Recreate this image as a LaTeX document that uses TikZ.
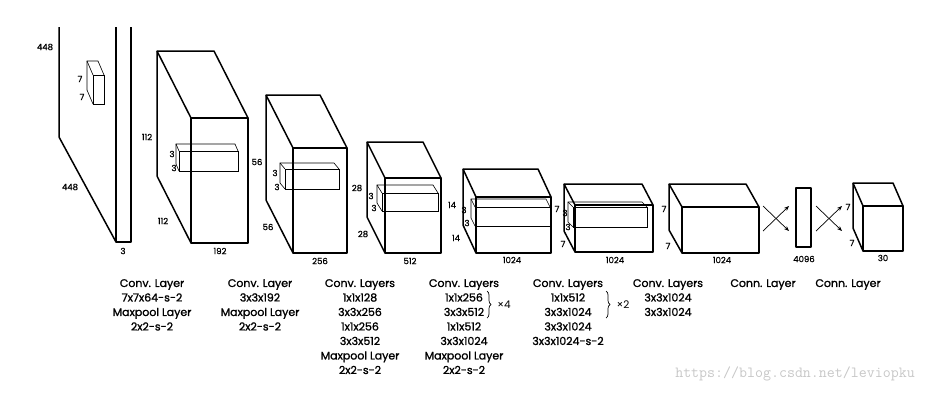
\documentclass[tikz,border=0pt]{standalone}
\usepackage{fontspec}
\setmainfont{Poppins}
\newfontfamily\descfont{Poppins}[FakeBold=1.3]
\newfontfamily\dimfont{Poppins}[FakeBold=0.8]
\usetikzlibrary{arrows.meta}
\usetikzlibrary{decorations,decorations.pathreplacing}
\tikzstyle{blk}=[line width=1.5pt, line join=round]
\tikzstyle{kern}=[line width=0.6pt]
\tikzstyle{dim}=[inner sep=0.5pt, font=\dimfont\fontsize{8.5}{9}\selectfont]
\tikzstyle{desc}=[inner sep=0pt, align=center, anchor=north, font=\descfont\fontsize{11}{14.5}\selectfont]
\tikzstyle{fc>}=[line width=0.7pt, -{Stealth[length=5pt,width=4pt]}]
% cuboid: [style]{x}{y}{dx}{dy}{w}{h}, (x,y) = back top left corner
\newcommand{\convbox}[7][]{%
  \draw[#1] (#2,#3+#7) -- (#2,#3) -- (#2+#6,#3) -- (#2+#4+#6,#3+#5);
  \draw[#1] (#2,#3) -- (#2+#4,#3+#5);
  \draw[#1] (#2,#3+#7) -- (#2+#4,#3+#5+#7);
  \draw[#1] (#2+#4,#3+#5) rectangle (#2+#4+#6,#3+#5+#7);
}

\begin{document}
\begin{tikzpicture}[x=1pt,y=-1pt]
\useasboundingbox (0,0) rectangle (942,410);
% input image
\begin{scope}
\clip (0,27) rectangle (942,410);
\convbox[blk]{59}{-100}{57}{105}{15}{237}
\end{scope}
\convbox[kern]{87}{61}{6}{14}{11}{29}
\node[dim] (in1) at (45,47) {448};
\node[dim] (in2) at (70,187) {448};
\node[dim] (in3) at (123,251) {3};
\node[dim] (k1a) at (80,79) {7};
\node[dim] (k1b) at (82,97) {7};
% layer 1
\convbox[blk]{157}{51}{34}{67}{57}{125}
\convbox[kern]{176}{144}{3}{7}{59}{20}
\node[dim] (c1a) at (147,137) {112};
\node[dim] (c1b) at (163,221) {112};
\node[dim] (c1c) at (220,251) {192};
\node[dim] (k2a) at (172,154) {3};
\node[dim] (k2b) at (174,168) {3};
% layer 2
\convbox[blk]{266}{95}{27}{53}{54}{105}
\convbox[kern]{280}{163}{5}{6}{54}{20}
\node[dim] (c2a) at (257,162) {56};
\node[dim] (c2b) at (268,227) {56};
\node[dim] (c2c) at (320,261) {256};
\node[dim] (k3a) at (275,173) {3};
\node[dim] (k3b) at (277,187) {3};
% layer 3
\convbox[blk]{367}{142}{18}{36}{56}{75}
\convbox[kern]{377}{185}{5}{8}{56}{18}
\node[dim] (c3a) at (357,188) {28};
\node[dim] (c3b) at (363,234) {28};
\node[dim] (c3c) at (410,261) {512};
\node[dim] (k4a) at (371,196) {3};
\node[dim] (k4b) at (374,208) {3};
% layer 4
\convbox[blk]{463}{169}{13}{28}{75}{56}
\convbox[kern]{471}{199}{4}{8}{75}{19}
\node[dim] (c4a) at (452,205) {14};
\node[dim] (c4b) at (456,238) {14};
\node[dim] (c4c) at (512,260) {1024};
\node[dim] (k5a) at (464,210) {3};
\node[dim] (k5b) at (467,223) {3};
% layer 5
\convbox[blk]{564}{184}{11}{21}{78}{47}
\convbox[kern]{568}{202}{5}{5}{74}{20}
\node[dim] (c5a) at (557,209) {7};
\node[dim] (c5b) at (563,244) {7};
\node[dim] (c5c) at (615,260) {1024};
\node[dim] (k6a) at (565,213) {3};
\node[dim] (k6b) at (568,227) {3};
% layer 6
\convbox[blk]{669}{184}{13}{23}{77}{46}
\node[dim] (c6a) at (664,209) {7};
\node[dim] (c6b) at (668,246) {7};
\node[dim] (c6c) at (722,260) {1024};
% connected layers
\coordinate (x1a) at (763,206); \coordinate (x1b) at (789,231);
\coordinate (x1c) at (763,231); \coordinate (x1d) at (789,206);
\draw[fc>] (x1a) -- (x1b);
\draw[fc>] (x1c) -- (x1d);
\draw[blk] (796,188) rectangle (811,247);
\node[dim] (fc1) at (804,259) {4096};
\coordinate (x2a) at (816,206); \coordinate (x2b) at (842,231);
\coordinate (x2c) at (816,231); \coordinate (x2d) at (842,206);
\draw[fc>] (x2a) -- (x2b);
\draw[fc>] (x2c) -- (x2d);
\convbox[blk]{853}{183}{10}{23}{40}{45}
\node[dim] (o1) at (848,207) {7};
\node[dim] (o2) at (852,243) {7};
\node[dim] (o3) at (883,258) {30};
% descriptions
\node[desc] (t1) at (152,279) {Conv. Layer\\7x7x64-s-2\\Maxpool Layer\\2x2-s-2};
\node[desc] (t2) at (260,279) {Conv. Layer\\3x3x192\\Maxpool Layer\\2x2-s-2};
\node[desc] (t3) at (360,279) {Conv. Layers\\1x1x128\\3x3x256\\1x1x256\\3x3x512\\Maxpool Layer\\2x2-s-2};
\node[desc] (t4) at (464,279) {Conv. Layers\\1x1x256\\3x3x512\\1x1x512\\3x3x1024\\Maxpool Layer\\2x2-s-2};
\node[desc] (t5) at (568,279) {Conv. Layers\\1x1x512\\3x3x1024\\3x3x1024\\3x3x1024-s-2};
\node[desc] (t6) at (668,279) {Conv. Layers\\3x3x1024\\3x3x1024};
\node[desc] (t7) at (763,279) {Conn. Layer};
\node[desc] (t8) at (848,279) {Conn. Layer};
\draw[line width=0.7pt, decorate, decoration={brace, amplitude=4pt}] (487,291) -- (487,318);
\node[inner sep=0pt, font=\fontsize{10.5}{12}\selectfont] (r4) at (504,305) {×4};
\draw[line width=0.7pt, decorate, decoration={brace, amplitude=4pt}] (606,291) -- (606,318);
\node[inner sep=0pt, font=\fontsize{10.5}{12}\selectfont] (r2) at (623,305) {×2};
\node[text=black!22, font=\ttfamily\fontsize{15.5}{16}\selectfont] (wm) at (795,374) {https://blog.csdn.net/leviopku};
\end{tikzpicture}
\end{document}
